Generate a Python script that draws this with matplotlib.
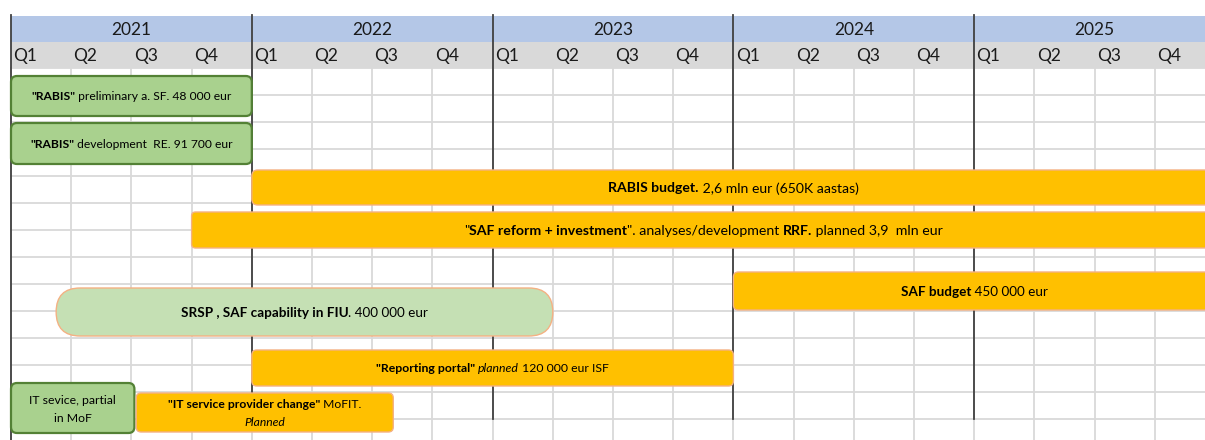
import matplotlib
matplotlib.use("Agg")
import matplotlib.pyplot as plt
import matplotlib.transforms as mtransforms
from matplotlib.patches import FancyBboxPatch, Rectangle

FONT = "Lato"

# =============================================================================
# DATA  (x in quarters from 2021 Q1, end = 20 means runs past 2025 Q4)
# =============================================================================
years = ["2021", "2022", "2023", "2024", "2025"]
quarters = ["Q1", "Q2", "Q3", "Q4"]

bar_start = [0.0, 0.0, 4.0, 3.0, 12.0, 0.75, 4.0, 0.0, 2.08]
bar_end = [4.0, 4.0, 20.0, 20.0, 20.0, 9.0, 12.0, 2.05, 6.35]
bar_kind = ["green", "green", "orange", "orange", "orange", "pale", "orange", "green", "orange"]

# label pieces: (text, weight, style); "\n" as own piece starts a new line
bar_labels = [
    [('"RABIS"', "bold", "normal"), (" preliminary a. SF. 48 000 eur", "normal", "normal")],
    [('"RABIS"', "bold", "normal"), (" development  RE. 91 700 eur", "normal", "normal")],
    [("RABIS budget.", "bold", "normal"), (" 2,6 mln eur (650K aastas)", "normal", "normal")],
    [('"', "normal", "normal"), ("SAF reform + investment", "bold", "normal"),
     ('". analyses/development ', "normal", "normal"), ("RRF.", "bold", "normal"),
     (" planned 3,9  mln eur", "normal", "normal")],
    [("SAF budget", "bold", "normal"), (" 450 000 eur", "normal", "normal")],
    [("SRSP , SAF capability in FIU", "bold", "normal"), (". 400 000 eur", "normal", "normal")],
    [('"Reporting portal"', "bold", "normal"), (" ", "normal", "normal"),
     ("planned", "normal", "italic"), (" 120 000 eur ISF", "normal", "normal")],
    [("IT sevice, partial", "normal", "normal"), ("\n", "", ""), ("in MoF", "normal", "normal")],
    [('"IT service provider change"', "bold", "normal"), (" MoFIT.", "normal", "normal"),
     ("\n", "", ""), ("Planned", "normal", "italic")],
]

# =============================================================================
# LAYOUT (pixels, y downwards)
# =============================================================================
Q_PX = 60.2
X0_PX = 11
bar_top = [76, 123, 170, 212, 272, 288, 350, 383, 393]
bar_bot = [116, 164, 205, 248, 310, 336, 386, 433, 432]
bar_fs = [8.7, 8.7, 10.1, 10.2, 9.7, 9.7, 8.8, 8.8, 8.7]
bar_radius = [6, 6, 6, 4, 5, 24, 5, 6, 5]

styles = {
    "green": dict(fc="#A9D18E", ec="#538135", lw=1.6),
    "orange": dict(fc="#FFC000", ec="#F4B183", lw=1.0),
    "pale": dict(fc="#C5E0B4", ec="#F4B183", lw=1.0),
}

fig = plt.figure(figsize=(12.05, 4.40), dpi=100)
ax = fig.add_axes([0, 0, 1, 1])
ax.set_xlim(-X0_PX / Q_PX, (1205 - X0_PX) / Q_PX)
ax.set_ylim(440, 0)
ax.axis("off")

# header bands
ax.add_patch(Rectangle((0, 16), 20, 26, fc="#B4C7E7", ec="none", zorder=1))
ax.add_patch(Rectangle((0, 42), 20, 26, fc="#D9D9D9", ec="none", zorder=1))
for i, y in enumerate(years):
    ax.text(4 * i + 2, 30, y, ha="center", va="center", fontsize=12.5,
            family=FONT, color="#1a1a1a", zorder=3)
    for j, q in enumerate(quarters):
        ax.text(4 * i + j + 0.04, 56, q, ha="left", va="center", fontsize=12.5,
                family=FONT, color="#1a1a1a", zorder=3)

# grid
for k in range(21):
    ax.plot([k, k], [68, 440], color="#D9D9D9", lw=1.3, zorder=0.5)
for r in range(14):
    yy = 68 + 27 * r
    ax.plot([0, 20], [yy, yy], color="#D9D9D9", lw=1.3, zorder=0.5)
for k in range(0, 20, 4):
    ax.plot([k, k], [15, 440 if k == 0 else 419], color="#404040", lw=1.3, zorder=2)

# bars
renderer = fig.canvas.get_renderer()


def draw_label(xc, yc, pieces, size):
    lines = [[]]
    for p in pieces:
        if p[0] == "\n":
            lines.append([])
        else:
            lines[-1].append(p)
    lh = 18
    y_first = yc - lh * (len(lines) - 1) / 2
    for li, line in enumerate(lines):
        widths = []
        for s, w, st in line:
            t = ax.text(0, 0, s, fontsize=size, fontweight=w, fontstyle=st, family=FONT)
            widths.append(t.get_window_extent(renderer).width)
            t.remove()
        x_off = -sum(widths) / 2
        for (s, w, st), wd in zip(line, widths):
            tr = mtransforms.offset_copy(ax.transData, fig=fig, x=x_off, y=0, units="dots")
            ax.text(xc, y_first + li * lh, s, transform=tr, ha="left",
                    va="center_baseline", fontsize=size, fontweight=w,
                    fontstyle=st, family=FONT, color="black", zorder=5)
            x_off += wd


for i in range(len(bar_start)):
    x0, x1 = bar_start[i], bar_end[i]
    y0, y1 = bar_top[i], bar_bot[i]
    box = FancyBboxPatch((x0, y0), x1 - x0, y1 - y0,
                         boxstyle=f"round,pad=0,rounding_size={bar_radius[i] / Q_PX}",
                         mutation_aspect=Q_PX, zorder=4, **styles[bar_kind[i]])
    ax.add_patch(box)
    draw_label((x0 + x1) / 2, (y0 + y1) / 2, bar_labels[i], bar_fs[i])

fig.savefig("out.png", dpi=100)
